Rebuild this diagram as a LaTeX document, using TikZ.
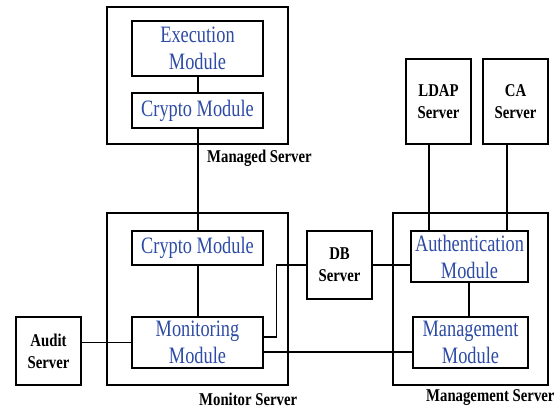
\documentclass[tikz,border=0pt]{standalone}
\usepackage{fontspec}
\setmainfont{Liberation Serif}
\newfontfamily\modfont[FakeStretch=0.78]{Liberation Serif}
\newfontfamily\lblfont[FakeStretch=0.82]{Liberation Serif}
\usetikzlibrary{calc}
\definecolor{modblue}{RGB}{45,75,165}
\tikzset{
  box/.style={draw, line width=1.2pt, inner sep=0pt, fill=none},
  module/.style={box, align=center, text=modblue,
    font=\modfont\fontsize{23.5}{27}\selectfont},
  server/.style={box, align=center,
    font=\lblfont\bfseries\fontsize{18}{22}\selectfont},
  caption/.style={anchor=west, inner sep=0pt,
    font=\lblfont\bfseries\fontsize{18}{22}\selectfont},
  link/.style={line width=1.2pt},
}
\begin{document}
\begin{tikzpicture}[x=1pt, y=-1pt]
\useasboundingbox (0,0) rectangle (556,410);

% managed server
\node[box, minimum width=181, minimum height=137] (managed) at (197.5,75.5) {};
\node[module, minimum width=131, minimum height=55] (exec) at (197.5,48.5) {Execution\\Module};
\node[module, minimum width=131, minimum height=35] (crypto1) at (197.5,110.5) {Crypto Module};
\node[caption] (managedlbl) at (207,158) {Managed Server};

% monitor server
\node[box, minimum width=181, minimum height=172] (monitor) at (197.5,299) {};
\node[module, minimum width=131, minimum height=34] (crypto2) at (197.5,248) {Crypto Module};
\node[module, minimum width=131, minimum height=51] (monitoring) at (197.5,342.5) {Monitoring\\Module};
\node[caption] (monitorlbl) at (199,399) {Monitor Server};

% standalone servers
\node[server, minimum width=65, minimum height=68] (audit) at (48.5,351) {Audit\\Server};
\node[server, minimum width=65, minimum height=68] (db) at (339.5,265) {DB\\Server};
\node[server, minimum width=65, minimum height=85] (ldap) at (438.5,101.5) {LDAP\\Server};
\node[server, minimum width=65, minimum height=85] (ca) at (515.5,101.5) {CA\\Server};

% management server
\node[box, minimum width=155, minimum height=172] (mgmt) at (470.5,299) {};
\node[module, minimum width=117, minimum height=51] (auth) at (469.5,256.5) {Authentication\\Module};
\node[module, minimum width=115, minimum height=51] (mgmtmod) at (470.5,342.5) {Management\\Module};
\node[caption] (mgmtlbl) at (426,398) {Management Server};

% attachment points for the links
\coordinate (execfoot) at ($(exec.south)+(0.5,0)$);
\coordinate (crypto1foot) at ($(crypto1.south)+(0.5,0)$);
\coordinate (crypto2foot) at ($(crypto2.south)+(0.5,0)$);
\coordinate (mon2db) at ($(monitoring.east)+(0,-5.5)$);
\coordinate (mon2mgmt) at ($(monitoring.east)+(0,9.5)$);
\coordinate (ldapfoot) at ($(ldap.south)+(-9.5,0)$);
\coordinate (cafoot) at ($(ca.south)+(-8.5,0)$);
\coordinate (authfoot) at ($(auth.south)+(-0.5,0)$);

% connections
\draw[link] (execfoot) -- (execfoot |- crypto1.north);
\draw[link] (crypto1foot) -- (crypto1foot |- crypto2.north);
\draw[link] (crypto2foot) -- (crypto2foot |- monitoring.north);
\draw[link] (monitoring.west) -- (audit.east |- monitoring.west);
\draw[link] (mon2db) -- ++(12.5,0) |- (db.west);
\draw[link] (db.east) -- (auth.west |- db.east);
\draw[link] (mon2mgmt) -- (mgmtmod.west |- mon2mgmt);
\draw[link] (ldapfoot) -- (ldapfoot |- auth.north);
\draw[link] (cafoot) -- (cafoot |- auth.north);
\draw[link] (authfoot) -- (authfoot |- mgmtmod.north);
\end{tikzpicture}
\end{document}
